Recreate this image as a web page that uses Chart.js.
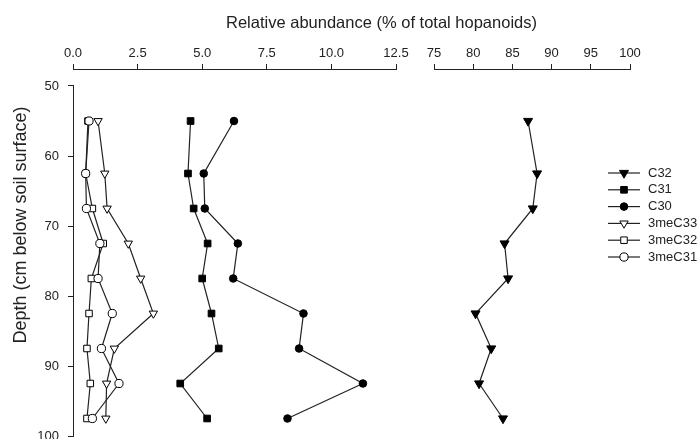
<!DOCTYPE html>
<html>
<head>
<meta charset="utf-8">
<script src="https://cdn.jsdelivr.net/npm/chart.js@4.4.1/dist/chart.umd.min.js"></script>
<style>
  body { margin: 0; background: #fff; }
  #wrap { width: 700px; height: 439px; }
</style>
</head>
<body>
<div id="wrap"><canvas id="profile" width="700" height="439"></canvas></div>
<script>
// --- Data ---
const depths = [55, 62.5, 67.5, 72.5, 77.5, 82.5, 87.5, 92.5, 97.5];
const c32 = [87.0, 88.15, 87.6, 84.0, 84.45, 80.3, 82.3, 80.75, 83.8];
const c31 = [4.55, 4.45, 4.67, 5.21, 5.0, 5.36, 5.64, 4.15, 5.19];
const c30 = [6.23, 5.06, 5.1, 6.38, 6.2, 8.92, 8.75, 11.22, 8.3];
const me3C33 = [0.97, 1.23, 1.32, 2.14, 2.62, 3.11, 1.6, 1.3, 1.27];
const me3C32 = [0.58, 0.49, 0.75, 1.17, 0.71, 0.62, 0.54, 0.67, 0.54];
const me3C31 = [0.62, 0.49, 0.52, 1.04, 0.97, 1.52, 1.1, 1.78, 0.75];

const leftTicks = [0, 2.5, 5, 7.5, 10, 12.5];
const rightTicks = [75, 80, 85, 90, 95, 100];
const depthTicks = [50, 60, 70, 80, 90, 100];

const INK = '#222';
Chart.defaults.font.family = '"Liberation Sans", Arial, sans-serif';
Chart.defaults.color = INK;

function pts(vals) {
    return vals.map((v, i) => ({ x: v, y: depths[i] }));
}

function series(label, vals, axis, style, filled, radius, rotation) {
    return {
        label: label,
        data: pts(vals),
        xAxisID: axis,
        yAxisID: 'y',
        borderColor: INK,
        borderWidth: 1.2,
        pointStyle: style,
        pointRotation: rotation || 0,
        pointRadius: radius,
        pointBackgroundColor: filled ? '#000' : '#fff',
        pointBorderColor: '#000',
        pointBorderWidth: 1,
        tension: 0
    };
}

// x axes share one stack so the broken axis sits side by side.
// Same-weight boxes on top/left are placed in reverse order, so scales are listed right-to-left.
const stackedX = (extra) => Object.assign({
    type: 'linear',
    axis: 'x',
    position: 'top',
    stack: 'top',
    afterFit: (scale) => {
        scale.height = 35.2;
        scale.paddingLeft = 0;
        scale.paddingRight = 0;
    }
}, extra);

const axisLook = {
    grid: { drawOnChartArea: false, drawTicks: true, tickLength: 5, color: INK },
    border: { color: INK, width: 1 }
};
const tickLook = { font: { size: 13 }, padding: 3, maxRotation: 0, minRotation: 0, autoSkip: false };

// --- Custom side legend (line + marker like the original) ---
const sideLegend = {
    id: 'sideLegend',
    afterDatasetsDraw(chart) {
        const ctx = chart.ctx;
        const left = chart.scales.x2.right - 22;
        let y = chart.chartArea.top + 104;
        ctx.save();
        chart.data.datasets.forEach(ds => {
            ctx.strokeStyle = ds.borderColor;
            ctx.lineWidth = ds.borderWidth;
            ctx.beginPath();
            ctx.moveTo(left, y);
            ctx.lineTo(left + 32, y);
            ctx.stroke();
            ctx.fillStyle = ds.pointBackgroundColor;
            ctx.strokeStyle = ds.pointBorderColor;
            ctx.lineWidth = ds.pointBorderWidth;
            Chart.helpers.drawPoint(ctx, {
                pointStyle: ds.pointStyle,
                rotation: ds.pointRotation,
                radius: ds.pointRadius,
                borderWidth: ds.pointBorderWidth
            }, left + 16, y);
            ctx.fillStyle = INK;
            ctx.font = '13px "Liberation Sans", Arial, sans-serif';
            ctx.textBaseline = 'middle';
            ctx.textAlign = 'left';
            ctx.fillText(ds.label, left + 40, y);
            y += 16.8;
        });
        ctx.restore();
    }
};

const ctx = document.getElementById('profile').getContext('2d');
const chart = new Chart(ctx, {
    type: 'line',
    data: {
        datasets: [
            series('C32', c32, 'x2', 'triangle', true, 5.2, 180),
            series('C31', c31, 'x', 'rect', true, 4.7),
            series('C30', c30, 'x', 'circle', true, 3.8),
            series('3meC33', me3C33, 'x', 'triangle', false, 4.8, 180),
            series('3meC32', me3C32, 'x', 'rect', false, 4.6),
            Object.assign(series('3meC31', me3C31, 'x', 'circle', false, 4.1), { order: -1 })
        ]
    },
    options: {
        responsive: false,
        devicePixelRatio: 1,
        animation: false,
        layout: { autoPadding: false, padding: { left: 0, right: 10, top: 0, bottom: 3 } },
        plugins: {
            legend: { display: false },
            tooltip: { enabled: false },
            title: {
                display: true,
                text: 'Relative abundance (% of total hopanoids)',
                fullSize: false,
                color: INK,
                font: { size: 16.5, weight: 'normal', lineHeight: 1.2 },
                padding: { top: 14, bottom: 0 }
            }
        },
        scales: {
            xPad: stackedX({ min: 0, max: 1, stackWeight: 60, display: false }),
            x2: stackedX(Object.assign({
                min: 75, max: 100,
                stackWeight: 196,
                afterBuildTicks: (scale) => { scale.ticks = rightTicks.map(v => ({ value: v })); },
                ticks: tickLook
            }, axisLook)),
            xGap: stackedX({ min: 0, max: 1, stackWeight: 38, display: false }),
            x: stackedX(Object.assign({
                min: 0, max: 12.5,
                stackWeight: 323,
                afterBuildTicks: (scale) => { scale.ticks = leftTicks.map(v => ({ value: v })); },
                ticks: Object.assign({}, tickLook, { callback: (v) => Number(v).toFixed(1) })
            }, axisLook)),
            // depth axis: spacer on top so the axis starts below the x axis line
            y: Object.assign({
                type: 'linear', axis: 'y', position: 'left',
                stack: 'depth', stackWeight: 350,
                min: 50, max: 100, reverse: true,
                afterBuildTicks: (scale) => { scale.ticks = depthTicks.map(v => ({ value: v })); },
                afterFit: (scale) => {
                    scale.width = 43;
                    scale.paddingTop = 0;
                    scale.paddingBottom = 0;
                },
                ticks: { font: { size: 13 }, padding: 9 }
            }, axisLook),
            yPad: {
                type: 'linear', axis: 'y', position: 'left',
                stack: 'depth', stackWeight: 17, display: false
            },
            // title-only axis, sized so the title sits where the original has it
            yTitleGap: {
                type: 'linear', axis: 'y', position: 'left',
                stack: 'label', stackWeight: 55, display: false
            },
            yTitle: {
                type: 'linear', axis: 'y', position: 'left',
                stack: 'label', stackWeight: 312,
                ticks: { display: false },
                grid: { display: false },
                border: { display: false },
                afterFit: (scale) => {
                    scale.width = 30;
                    scale.paddingTop = 0;
                    scale.paddingBottom = 0;
                },
                title: {
                    display: true,
                    text: 'Depth (cm below soil surface)',
                    color: INK,
                    font: { size: 18 },
                    padding: { top: 10, bottom: 0 }
                }
            }
        }
    },
    plugins: [sideLegend]
});
</script>
</body>
</html>
